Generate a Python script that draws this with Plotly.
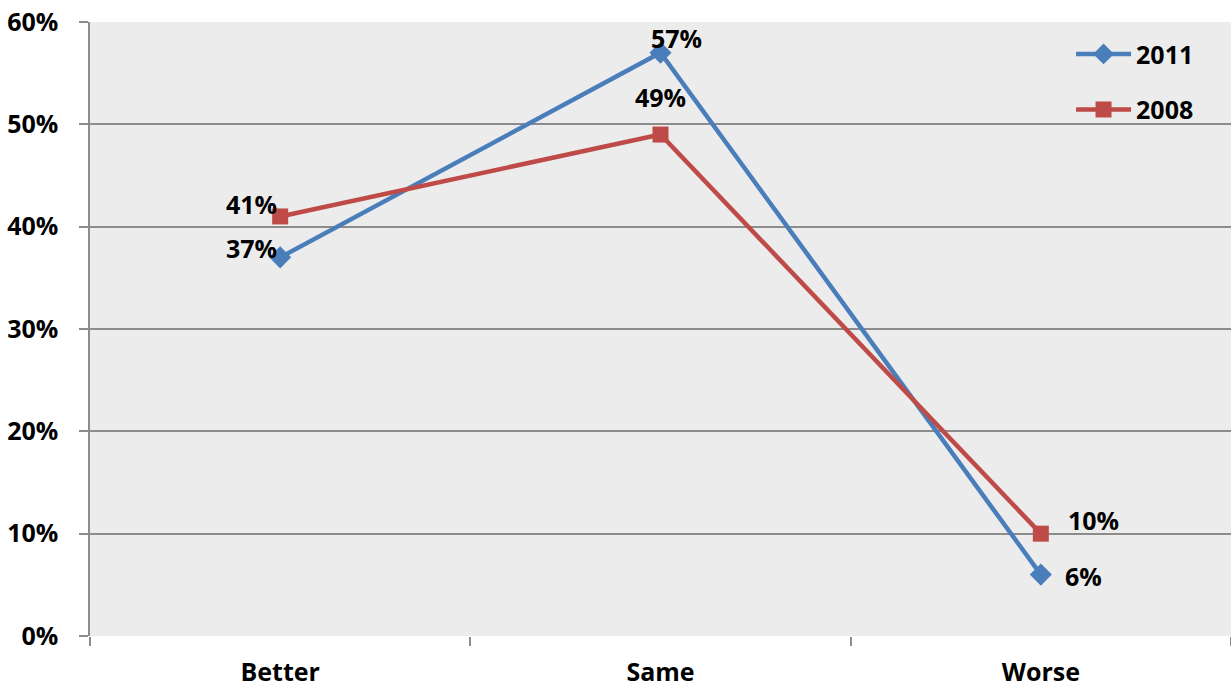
import plotly.graph_objects as go

categories = ["Better", "Same", "Worse"]
values_2011 = [37, 57, 6]
values_2008 = [41, 49, 10]
y_ticks = [0, 10, 20, 30, 40, 50, 60]
y_tick_labels = [f"{v}%" for v in y_ticks]

BLUE = "#4A7EBB"
RED = "#BE4B48"
FONT = "Open Sans"
FSIZE = 25

fig = go.Figure()
fig.add_trace(go.Scatter(
    x=categories, y=values_2011, name="2011", mode="lines+markers",
    line=dict(color=BLUE, width=4.5),
    marker=dict(symbol="diamond", size=17, color=BLUE),
    legendgroup="a",
))
fig.add_trace(go.Scatter(
    x=categories, y=values_2008, name="2008", mode="lines+markers",
    line=dict(color=RED, width=4.5),
    marker=dict(symbol="square", size=16, color=RED),
    legendgroup="b",
))

# value labels: offsets in px from each point
label_offsets_2011 = [(-29, 9), (16, 15), (43, -1)]
label_offsets_2008 = [(-29, 12), (0, 38), (53, 14)]
for vals, offs in ((values_2011, label_offsets_2011), (values_2008, label_offsets_2008)):
    for cat, v, (dx, dy) in zip(categories, vals, offs):
        fig.add_annotation(
            x=cat, y=v, text=f"{v}%", showarrow=False,
            xshift=dx, yshift=dy,
            font=dict(family=FONT, size=FSIZE, color="#000000", weight="bold"),
        )

fig.update_layout(
    width=1231, height=691,
    margin=dict(l=90, r=0, t=22, b=55),
    paper_bgcolor="#FFFFFF",
    plot_bgcolor="#ECECEC",
    font=dict(family=FONT, size=FSIZE, color="#000000", weight="bold"),
    showlegend=True,
    legend=dict(
        x=0.972, xanchor="right", y=0.985, yanchor="top",
        bgcolor="rgba(0,0,0,0)", itemwidth=55,
        traceorder="grouped", tracegroupgap=20,
        font=dict(family=FONT, size=FSIZE, color="#000000", weight="bold"),
    ),
)
fig.update_xaxes(
    type="category", range=[-0.5, 2.5], automargin=False,
    showgrid=False, showline=False, zeroline=False,
    ticks="outside", tickson="boundaries", ticklen=9, tickwidth=1.5, tickcolor="#8C8C8C",
    ticklabelstandoff=19,
    tickfont=dict(family=FONT, size=FSIZE, color="#000000", weight="bold"),
)
fig.update_yaxes(
    range=[0, 60], tickvals=y_ticks, ticktext=y_tick_labels, automargin=False,
    showgrid=True, gridcolor="#8C8C8C", gridwidth=1.5,
    showline=True, linecolor="#8C8C8C", linewidth=1.5,
    zeroline=False,
    ticks="outside", ticklen=9, tickwidth=1.5, tickcolor="#8C8C8C",
    ticklabelstandoff=16,
    tickfont=dict(family=FONT, size=FSIZE, color="#000000", weight="bold"),
)

fig.write_html("out.html")
